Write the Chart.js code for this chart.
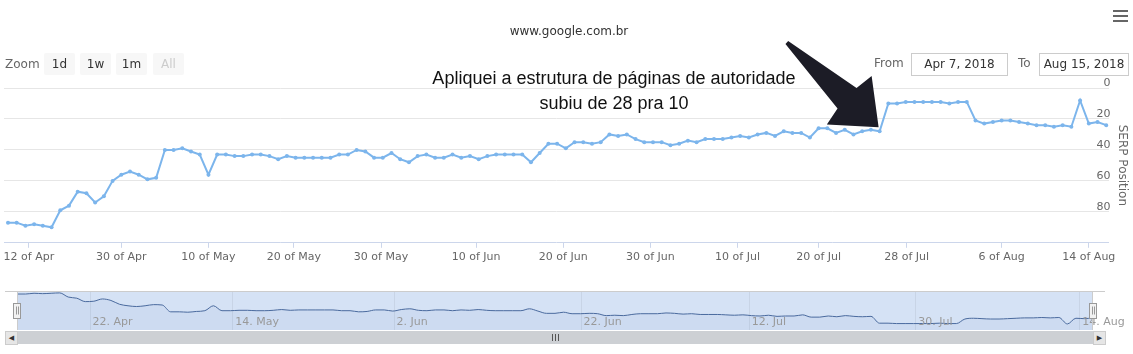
<!DOCTYPE html>
<html>
<head>
<meta charset="utf-8">
<script src="https://cdn.jsdelivr.net/npm/chart.js@4.4.1/dist/chart.umd.min.js"></script>
<style>
  body { margin: 0; width: 1133px; height: 354px; background: #fff; position: relative; overflow: hidden;
         font-family: "DejaVu Sans", sans-serif; }
  canvas { position: absolute; left: 0; }
  #serpChart { top: 0; }
  #navChart { top: 280px; }
  .abs { position: absolute; z-index: 2; }
  #title { left: 0; width: 1138px; top: 24px; text-align: center; font-size: 12px; color: #333; }
  #menu { left: 1113px; top: 10px; width: 15px; }
  #menu span { display: block; height: 2px; background: #666; margin-bottom: 3px; }
  #zoomLbl { left: 5px; top: 57px; font-size: 12px; color: #666; }
  .btn { top: 53px; width: 31px; height: 22px; line-height: 22px; text-align: center; background: #f7f7f7;
         font-size: 12px; color: #333; border-radius: 2px; }
  .btn.off { color: #ccc; }
  .lbl { top: 56px; font-size: 12px; color: #666; }
  .box { top: 53px; height: 21px; line-height: 21px; border: 1px solid #ccc; text-align: center; font-size: 12px; color: #333; }
  #sbTrack { left: 17px; top: 331px; width: 1076px; height: 13px; background: #cdd0d4; }
  .sbBtn { top: 331px; width: 11px; height: 12px; background: #e6e6e6; border: 1px solid #ccc; font-size: 7px; color: #333;
           line-height: 12px; text-align: center; }
  .rifle { top: 334px; width: 1px; height: 7px; background: #555; }
</style>
</head>
<body>
<div id="title" class="abs">www.google.com.br</div>
<div id="menu" class="abs"><span></span><span></span><span></span></div>

<div id="zoomLbl" class="abs">Zoom</div>
<div class="abs btn" style="left:44px">1d</div>
<div class="abs btn" style="left:80px">1w</div>
<div class="abs btn" style="left:116px">1m</div>
<div class="abs btn off" style="left:153px">All</div>

<div class="abs lbl" style="left:874px">From</div>
<div class="abs box" style="left:911px;width:95px">Apr 7, 2018</div>
<div class="abs lbl" style="left:1018px">To</div>
<div class="abs box" style="left:1039px;width:88px">Aug 15, 2018</div>

<canvas id="serpChart" width="1133" height="267"></canvas>
<canvas id="navChart" width="1133" height="51"></canvas>

<div id="sbTrack" class="abs"></div>
<div class="abs sbBtn" style="left:5px">&#9664;</div>
<div class="abs sbBtn" style="left:1093px">&#9654;</div>
<div class="abs rifle" style="left:552px"></div>
<div class="abs rifle" style="left:555px"></div>
<div class="abs rifle" style="left:558px"></div>

<script>
// daily SERP position of www.google.com.br (lower = better)
const serp = [87,87,89,88,89,90,79,76,67,68,
              74,70,60,56,54,56,59,58,40,40,
              39,41,43,56,43,43,44,44,43,43,
              44,46,44,45,45,45,45,45,43,43,
              40,41,45,45,42,46,48,44,43,45,
              45,43,45,44,46,44,43,43,43,43,
              48,42,36,36,39,35,35,36,35,30,
              31,30,33,35,35,35,37,36,34,35,
              33,33,33,32,31,32,30,29,31,28,
              29,29,32,26,26,29,27,30,28,27,
              28,10,10,9,9,9,9,9,10,9,
              9,21,23,22,21,21,22,23,24,24,
              25,24,25,8,23,22,24];

// x axis ticks (position in points, ordinal axis) and their labels
const xTickPos = [2.4, 13.0, 23.0, 32.8, 42.8, 53.7, 63.7, 73.7, 83.7, 93.0, 103.1, 114.0, 124.0];
const xTickLabels = ['12 of Apr', '30 of Apr', '10 of May', '20 of May', '30 of May', '10 of Jun', '20 of Jun',
                     '30 of Jun', '10 of Jul', '20 of Jul', '28 of Jul', '6 of Aug', '14 of Aug'];
const yTicks = [0, 20, 40, 60, 80];

// navigator ticks
const navTickPos = [8.5, 25.2, 44.1, 66.0, 85.7, 105.2, 124.4];
const navTickLabels = ['22. Apr', '14. May', '2. Jun', '22. Jun', '12. Jul', '30. Jul', '14. Aug'];

const noteLines = ['Apliquei a estrutura de páginas de autoridade', 'subiu de 28 pra 10'];
const before = 28, after = 10;

Chart.defaults.font.family = '"DejaVu Sans", sans-serif';
Chart.defaults.color = '#666';

const points = serp.map((v, i) => ({ x: i, y: v }));

// --- annotation: text + big arrow at the jump ---
const notePlugin = {
  id: 'note',
  afterDraw(chart) {
    const { ctx, scales: { x, y } } = chart;
    ctx.save();
    ctx.font = '18px "Liberation Sans", Arial, sans-serif';
    ctx.fillStyle = '#111';
    ctx.textAlign = 'center';
    ctx.textBaseline = 'middle';
    ctx.fillText(noteLines[0], 614, 79);
    ctx.fillText(noteLines[1], 614, 104);

    const idx = serp.findIndex((v, i) => v === before && serp[i + 1] === after);
    const tx = x.getPixelForValue(idx) - 1;
    const ty = y.getPixelForValue(serp[idx]) - 4;
    const ang = Math.atan2(85, 92);
    const ux = Math.cos(ang), uy = Math.sin(ang);
    const nx = -uy, ny = ux;
    const shape = [[0, 0], [-40, 33], [-43, 14], [-125, 2], [-125, -2], [-43, -14], [-40, -33]];
    ctx.beginPath();
    shape.forEach(([a, b], k) => {
      const px = tx + a * ux + b * nx, py = ty + a * uy + b * ny;
      if (k === 0) ctx.moveTo(px, py); else ctx.lineTo(px, py);
    });
    ctx.closePath();
    ctx.fillStyle = '#1c1c26';
    ctx.fill();
    ctx.restore();
  }
};

new Chart(document.getElementById('serpChart'), {
  type: 'line',
  data: {
    datasets: [{
      data: points,
      borderColor: '#7cb5ec',
      backgroundColor: '#7cb5ec',
      borderWidth: 2,
      pointRadius: 2,
      pointBorderWidth: 0,
      tension: 0
    }]
  },
  options: {
    responsive: false,
    animation: false,
    layout: { padding: { top: 88, left: 0, right: 0, bottom: 0 } },
    plugins: { legend: { display: false }, tooltip: { enabled: false } },
    scales: {
      x: {
        type: 'linear', min: -0.456, max: 126.27,
        afterBuildTicks: s => { s.ticks = xTickPos.map(v => ({ value: v })); },
        afterFit: s => { s.paddingLeft = 0; s.paddingRight = 0; },
        ticks: { callback: (v, i) => xTickLabels[i], font: { size: 11 }, padding: 3, maxRotation: 0, autoSkip: false },
        grid: { drawOnChartArea: false, drawTicks: true, tickLength: 5, color: '#ccd6eb' },
        border: { color: '#ccd6eb' }
      },
      y: {
        position: 'right', reverse: true, min: 0, max: 100,
        afterBuildTicks: s => { s.ticks = yTicks.map(v => ({ value: v })); },
        ticks: { mirror: true, padding: 2, labelOffset: -5, font: { size: 11 } },
        grid: { color: '#e6e6e6', drawTicks: false },
        border: { display: false },
        title: { display: true, text: 'SERP Position', font: { size: 12 }, padding: { top: 4, bottom: 2 } }
      }
    }
  },
  plugins: [notePlugin]
});

// --- navigator ---
const navPlugin = {
  id: 'nav',
  beforeDatasetsDraw(chart) {
    const { ctx, chartArea: a, scales: { x } } = chart;
    ctx.save();
    ctx.fillStyle = '#d5e2f5';
    ctx.fillRect(a.left, a.top, a.right - a.left, a.bottom - a.top);
    ctx.strokeStyle = 'rgba(0,0,0,0.06)';
    ctx.lineWidth = 1;
    navTickPos.forEach(v => {
      const px = Math.round(x.getPixelForValue(v)) + 0.5;
      ctx.beginPath(); ctx.moveTo(px, a.top); ctx.lineTo(px, a.bottom); ctx.stroke();
    });
    ctx.restore();
  },
  afterDatasetsDraw(chart) {
    const { ctx, chartArea: a, scales: { x } } = chart;
    ctx.save();
    ctx.font = '11px "DejaVu Sans", sans-serif';
    ctx.fillStyle = '#999';
    ctx.textAlign = 'left';
    ctx.textBaseline = 'middle';
    navTickPos.forEach((v, i) => ctx.fillText(navTickLabels[i], x.getPixelForValue(v) + 3, a.bottom - 8));

    ctx.strokeStyle = '#cccccc';
    ctx.beginPath();
    ctx.moveTo(5, a.top + 0.5); ctx.lineTo(1105, a.top + 0.5);
    ctx.moveTo(a.left + 0.5, a.top); ctx.lineTo(a.left + 0.5, a.bottom);
    ctx.moveTo(a.right - 0.5, a.top); ctx.lineTo(a.right - 0.5, a.bottom);
    ctx.stroke();

    const mid = (a.top + a.bottom) / 2;
    [a.left, a.right].forEach(ex => {
      ctx.fillStyle = '#f2f2f2';
      ctx.strokeStyle = '#999';
      ctx.fillRect(ex - 4, mid - 7.5, 8, 15);
      ctx.strokeRect(Math.round(ex) - 3.5, Math.round(mid) - 7.5, 7, 15);
      ctx.beginPath();
      ctx.moveTo(Math.round(ex) - 0.5, mid - 4); ctx.lineTo(Math.round(ex) - 0.5, mid + 4);
      ctx.moveTo(Math.round(ex) + 1.5, mid - 4); ctx.lineTo(Math.round(ex) + 1.5, mid + 4);
      ctx.stroke();
    });
    ctx.restore();
  }
};

new Chart(document.getElementById('navChart'), {
  type: 'line',
  data: {
    datasets: [{
      data: points,
      borderColor: '#4a6a9e',
      borderWidth: 1,
      backgroundColor: 'rgba(51,92,173,0.05)',
      fill: 'start',
      pointRadius: 0,
      cubicInterpolationMode: 'monotone'
    }]
  },
  options: {
    responsive: false,
    animation: false,
    layout: { padding: { left: 17, right: 40, top: 11, bottom: 1 } },
    plugins: { legend: { display: false }, tooltip: { enabled: false } },
    scales: {
      x: { type: 'linear', min: 0, max: 126, display: false },
      y: { min: -8, max: 95, display: false }
    }
  },
  plugins: [navPlugin]
});
</script>
</body>
</html>
